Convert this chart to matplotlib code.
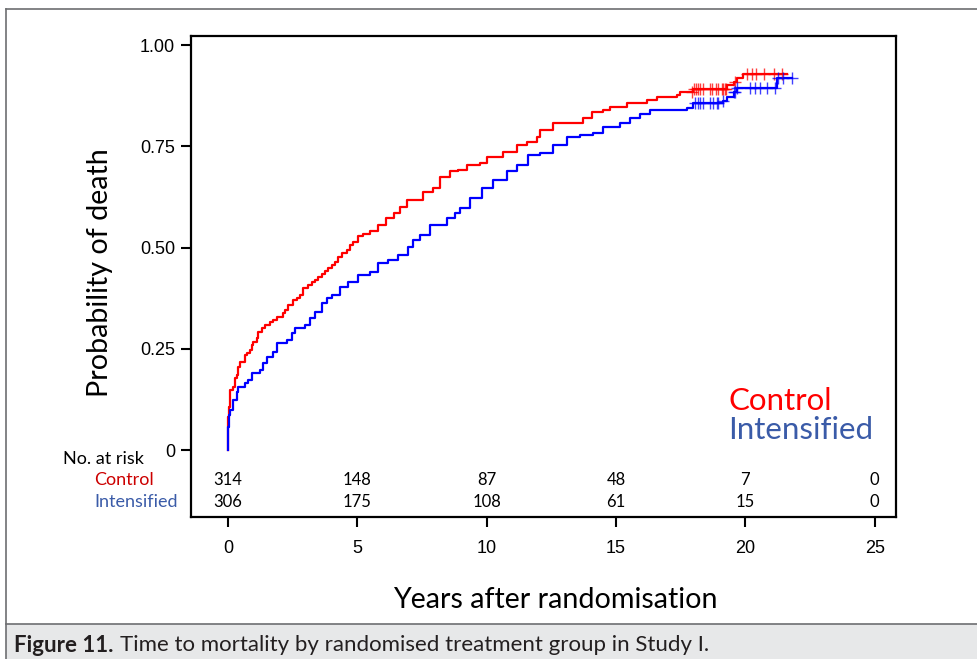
import numpy as np
import matplotlib
matplotlib.use('Agg')
import matplotlib.pyplot as plt
from matplotlib.lines import Line2D
from matplotlib.patches import Rectangle

# ─── Data (cumulative probability of death, step points)
#
control_t = [0, 0.01, 0.03, 0.08, 0.21, 0.27, 0.34, 0.40, 0.46, 0.66, 0.72, 0.85, 0.92, 0.98,
             1.11, 1.17, 1.30, 1.43, 1.62, 1.75, 1.88, 2.14, 2.20, 2.33, 2.53, 2.65, 2.78, 2.91,
             3.11, 3.23, 3.36, 3.49, 3.62, 3.75, 3.88, 4.01, 4.14, 4.27, 4.39, 4.59, 4.72, 4.85,
             5.04, 5.23, 5.49, 5.80, 6.10, 6.40, 6.65, 6.91, 7.55, 7.94, 8.19, 8.58, 8.90, 9.23,
             9.74, 10.00, 10.64, 11.16, 11.55, 11.93, 12.06, 12.57, 13.73, 14.06, 14.50, 14.77,
             15.41, 16.18, 16.57, 17.34, 17.47, 17.99, 19.28, 19.54, 19.66, 19.92, 21.60]
control_p = [0, 0.082, 0.107, 0.148, 0.156, 0.177, 0.185, 0.206, 0.218, 0.235, 0.239, 0.247, 0.259, 0.268,
             0.276, 0.292, 0.301, 0.309, 0.317, 0.321, 0.328, 0.338, 0.346, 0.358, 0.371, 0.375, 0.383, 0.399,
             0.408, 0.416, 0.420, 0.428, 0.436, 0.441, 0.449, 0.457, 0.465, 0.478, 0.486, 0.494, 0.506, 0.515,
             0.529, 0.533, 0.542, 0.555, 0.572, 0.585, 0.601, 0.618, 0.638, 0.646, 0.675, 0.688, 0.692, 0.704,
             0.708, 0.725, 0.737, 0.753, 0.762, 0.774, 0.790, 0.807, 0.819, 0.836, 0.840, 0.848,
             0.856, 0.865, 0.871, 0.877, 0.884, 0.892, 0.902, 0.910, 0.918, 0.928, 0.928]

intens_t = [0, 0.005, 0.05, 0.08, 0.20, 0.34, 0.40, 0.66, 0.79, 0.92, 1.24, 1.36, 1.49, 1.75, 1.88,
            2.27, 2.46, 2.59, 2.98, 3.17, 3.36, 3.62, 3.81, 4.01, 4.33, 4.65, 5.04, 5.49, 5.81, 6.20,
            6.58, 6.97, 7.16, 7.42, 7.81, 8.45, 8.77, 8.97, 9.35, 9.81, 10.26, 10.77, 11.16, 11.61,
            12.06, 12.57, 13.09, 13.61, 14.12, 14.51, 15.15, 15.54, 15.93, 16.31, 17.73, 17.99,
            19.15, 19.28, 19.54, 19.66, 21.21, 21.80]
intens_p = [0, 0.058, 0.086, 0.099, 0.124, 0.144, 0.156, 0.165, 0.173, 0.189, 0.198, 0.214, 0.230, 0.243, 0.264,
            0.272, 0.288, 0.301, 0.309, 0.325, 0.342, 0.362, 0.375, 0.383, 0.403, 0.416, 0.432, 0.440, 0.461, 0.469,
            0.482, 0.502, 0.519, 0.531, 0.556, 0.572, 0.585, 0.597, 0.622, 0.647, 0.667, 0.688, 0.704, 0.729,
            0.733, 0.753, 0.774, 0.778, 0.782, 0.799, 0.807, 0.819, 0.829, 0.840, 0.844, 0.856,
            0.861, 0.873, 0.885, 0.895, 0.918, 0.918]

control_cens = [17.95, 18.02, 18.10, 18.18, 18.25, 18.35, 18.62, 18.72, 18.85, 18.95, 19.10, 19.15,
                19.20, 19.25, 19.60, 20.05, 20.25, 20.40, 20.70, 21.10, 21.40]
intens_cens = [18.05, 18.18, 18.25, 18.37, 18.63, 18.76, 18.89, 18.95, 19.15, 19.54, 19.60, 19.66,
               20.18, 20.37, 20.56, 20.82, 21.14, 21.25, 21.47, 21.79]

risk_years = [0, 5, 10, 15, 20, 25]
risk_control = [314, 148, 87, 48, 7, 0]
risk_intens = [306, 175, 108, 61, 15, 0]

RED = '#FF0000'
BLUE = '#0000FF'
SANS = ['Lato', 'DejaVu Sans']


def step_value(times, probs, c):
    idx = np.searchsorted(times, c, side='right') - 1
    return probs[idx]


fig = plt.figure(figsize=(9.77, 6.59), dpi=100)
W, H = 977, 659

# ─── Outer frame and caption band
#
fig.add_artist(Rectangle((6 / W, 0), 1, 35 / H, transform=fig.transFigure,
                         facecolor='#E7E8E9', edgecolor='none'))
for xs, ys in [([6 / W, 6 / W], [0, 650 / H]), ([6 / W, 1], [650 / H, 650 / H]),
               ([6 / W, 1], [35 / H, 35 / H])]:
    fig.add_artist(Line2D(xs, ys, transform=fig.transFigure, color='#6D6E71', lw=1.2))

bold = fig.text(14 / W, 14 / H, 'Figure 11.', fontsize=16, fontweight='bold', family=SANS,
                color='#231F20', va='center')
renderer = fig.canvas.get_renderer()
bb = bold.get_window_extent(renderer)
fig.text((bb.x1 + 6) / W, 14 / H, 'Time to mortality by randomised treatment group in Study I.',
         fontsize=16, family=SANS, color='#231F20', va='center')

# ─── Main axes
#
ax = fig.add_axes([191 / W, 142 / H, 705 / W, 481 / H])
ax.set_xlim(-1.43, 25.82)
ax.set_ylim(-0.1655, 1.0227)

ax.step(control_t, control_p, where='post', color=RED, lw=1.6)
ax.step(intens_t, intens_p, where='post', color=BLUE, lw=1.6)

ct, cp = np.array(control_t), np.array(control_p)
it, ip = np.array(intens_t), np.array(intens_p)
ax.plot(control_cens, [step_value(ct, cp, c) for c in control_cens], ls='none',
        marker='+', ms=9, mew=1.0, color=RED, alpha=0.75)
ax.plot(intens_cens, [step_value(it, ip, c) for c in intens_cens], ls='none',
        marker='+', ms=9, mew=1.0, color=BLUE, alpha=0.75)

ax.set_xticks(risk_years)
ax.set_yticks([0, 0.25, 0.5, 0.75, 1.0])
ax.set_yticklabels(['0', '0.25', '0.50', '0.75', '1.00'])
for sp in ax.spines.values():
    sp.set_linewidth(1.6)
ax.tick_params(direction='out', length=7.5, width=1.5, labelsize=13)
ax.tick_params(axis='x', pad=9)
ax.tick_params(axis='y', pad=4)
for lab in ax.get_xticklabels() + ax.get_yticklabels():
    lab.set_family('Liberation Sans')

# ─── Legend text
#
ax.text(19.33, 0.121, 'Control', color=RED, fontsize=22.5, family=SANS, va='center')
ax.text(19.33, 0.049, 'Intensified', color='#3A5BA8', fontsize=22.5, family=SANS, va='center')

# ─── Number at risk table
#
for x, c, i in zip(risk_years, risk_control, risk_intens):
    ax.text(x, -0.074, str(c), ha='center', va='center', fontsize=12, family=SANS)
    ax.text(x, -0.128, str(i), ha='center', va='center', fontsize=12, family=SANS)
ax.text(-6.38, -0.022, 'No. at risk', ha='left', va='center', fontsize=13, family=SANS, clip_on=False)
ax.text(-5.18, -0.074, 'Control', ha='left', va='center', fontsize=13, family=SANS,
        color='#CC0000', clip_on=False)
ax.text(-5.18, -0.128, 'Intensified', ha='left', va='center', fontsize=13, family=SANS,
        color='#3A5BA8', clip_on=False)

# ─── Axis labels
#
fig.text(100 / W, (H - 273) / H, 'Probability of death', rotation=90, fontsize=20.6,
         family=SANS, ha='center', va='center')
fig.text(555 / W, (H - 600) / H, 'Years after randomisation', fontsize=20.6,
         family=SANS, ha='center', va='center')

fig.savefig('out.png', dpi=100)
plt.close(fig)
